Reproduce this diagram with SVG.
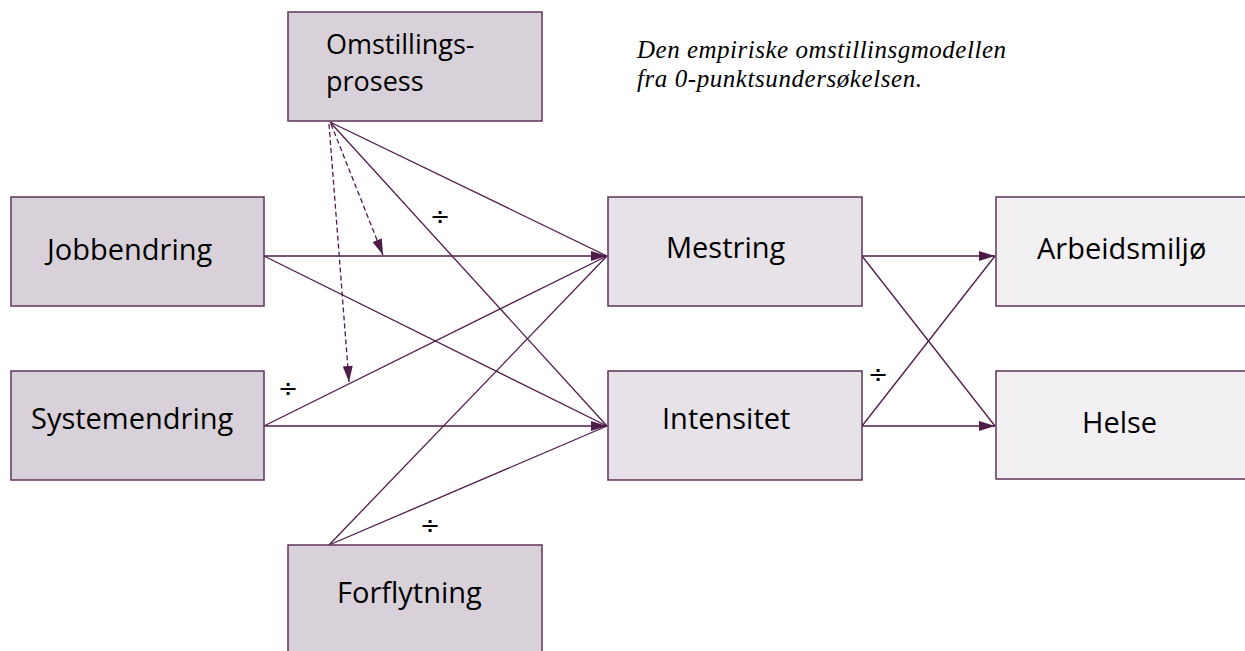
<svg xmlns="http://www.w3.org/2000/svg" width="1245" height="651" viewBox="0 0 1245 651">
<style>
.box{stroke:#5e3358;stroke-width:1.5}
.l1{fill:#d9d1d9}
.l2{fill:#e7e2e7}
.l3{fill:#f2f0f2}
.t{font-family:"Open Sans","Noto Sans",sans-serif;font-size:29px;fill:#000}
.t2{font-size:27px}
.c{stroke:#4e1c48;stroke-width:1.3;fill:none}
.d{stroke:#4e1c48;stroke-width:1.3;fill:none;stroke-dasharray:5 3}
.div{font-family:"DejaVu Sans",sans-serif;font-size:24px;fill:#000;text-anchor:middle}
.cap{font-family:"Liberation Serif",serif;font-style:italic;font-size:25px;fill:#000}
</style>
<defs>
<marker id="ah" markerUnits="userSpaceOnUse" markerWidth="17" markerHeight="12" refX="16" refY="5" orient="auto">
<path d="M0,0 L16,5 L0,10 z" fill="#4e1c48"/>
</marker>
</defs>
<g id="connectors">
<line class="c" x1="264" y1="256" x2="607" y2="256" marker-end="url(#ah)"/>
<line class="c" x1="264" y1="256" x2="607" y2="426"/>
<line class="c" x1="264" y1="426" x2="607" y2="256"/>
<line class="c" x1="264" y1="426" x2="607" y2="426" marker-end="url(#ah)"/>
<line class="c" x1="330" y1="122" x2="607" y2="256"/>
<line class="c" x1="330" y1="122" x2="607" y2="426"/>
<line class="c" x1="329" y1="545" x2="607" y2="256"/>
<line class="c" x1="329" y1="545" x2="607" y2="426"/>
<line class="d" x1="331" y1="124" x2="383" y2="255" marker-end="url(#ah)"/>
<line class="d" x1="329" y1="124" x2="349" y2="382" marker-end="url(#ah)"/>
<line class="c" x1="862" y1="256" x2="995" y2="256" marker-end="url(#ah)"/>
<line class="c" x1="862" y1="256" x2="995" y2="426"/>
<line class="c" x1="862" y1="426" x2="995" y2="256"/>
<line class="c" x1="862" y1="426" x2="995" y2="426" marker-end="url(#ah)"/>
<text class="div" x="440" y="225">÷</text>
<text class="div" x="288" y="397">÷</text>
<text class="div" x="430" y="534">÷</text>
<text class="div" x="878" y="383">÷</text>
</g>
<g id="omstillingsprosess">
<rect class="box l1" x="288" y="12" width="254" height="109"/>
<text class="t t2" x="326" y="54">Omstillings-</text>
<text class="t t2" x="326" y="91">prosess</text>
</g>
<g id="jobbendring">
<rect class="box l1" x="11" y="197" width="253" height="109"/>
<text class="t" x="47" y="260">Jobbendring</text>
</g>
<g id="systemendring">
<rect class="box l1" x="11" y="371" width="253" height="109"/>
<text class="t" x="31" y="429">Systemendring</text>
</g>
<g id="forflytning">
<rect class="box l1" x="288" y="545" width="254" height="120"/>
<text class="t" x="337" y="603">Forflytning</text>
</g>
<g id="mestring">
<rect class="box l2" x="608" y="197" width="254" height="109"/>
<text class="t" x="666" y="258">Mestring</text>
</g>
<g id="intensitet">
<rect class="box l2" x="608" y="371" width="254" height="109"/>
<text class="t" x="662" y="429">Intensitet</text>
</g>
<g id="arbeidsmiljo">
<rect class="box l3" x="996" y="197" width="260" height="109"/>
<text class="t" x="1037" y="259">Arbeidsmiljø</text>
</g>
<g id="helse">
<rect class="box l3" x="996" y="371" width="260" height="108"/>
<text class="t" x="1082" y="433">Helse</text>
</g>
<g id="caption">
<text class="cap" x="637" y="58" textLength="369" lengthAdjust="spacing">Den empiriske omstillinsgmodellen</text>
<text class="cap" x="637" y="87" textLength="285" lengthAdjust="spacing">fra 0-punktsundersøkelsen.</text>
</g>
</svg>
